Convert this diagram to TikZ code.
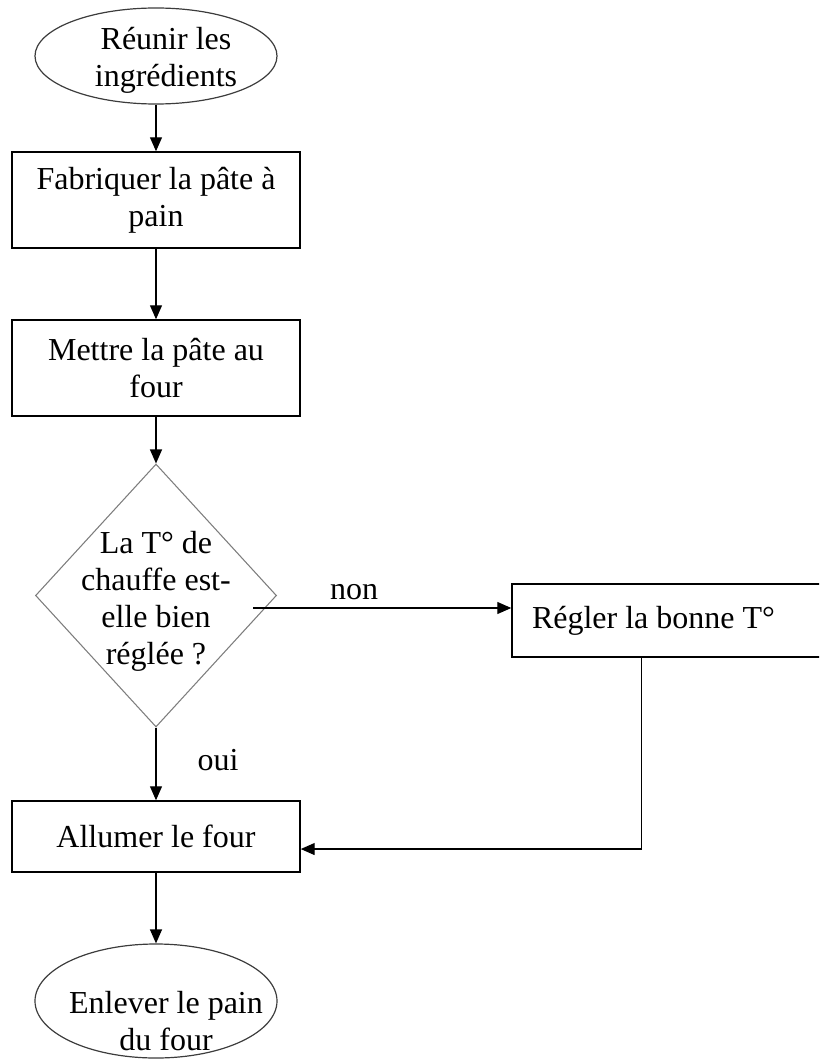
\documentclass[tikz,border=0pt]{standalone}
\usepackage{fontspec}
\setmainfont{Liberation Serif}
\usepackage{tikz}
\usetikzlibrary{shapes.geometric}
\usetikzlibrary{arrows.meta}

\begin{document}
\begin{tikzpicture}[x=0.75pt,y=0.75pt,yscale=-1,xscale=1,
  every node/.style={font=\fontsize{24}{27.75}\selectfont},
  txt/.style={inner sep=0pt, align=center},
  procbox/.style={draw=black, line width=1.1pt, rectangle, minimum width=216pt, inner sep=0pt, align=center},
  oval/.style={draw={rgb, 255:red, 60; green, 60; blue, 60}, line width=0.9pt, ellipse, inner sep=0pt, minimum width=181.5pt, minimum height=72pt},
  decision/.style={draw={rgb, 255:red, 125; green, 125; blue, 125}, line width=0.8pt, diamond, inner sep=0pt, minimum width=180.75pt, minimum height=197.25pt},
  fleche/.style={draw=black, line width=0.9pt, -{Triangle[length=10.5pt,width=9pt]}}]
\path [use as bounding box, clip] (0,0) rectangle (819,1059);

\node [oval] (ingr) at (156,56) {};
\node [txt] (ingrtxt) at (166,60) {Réunir les\\ingrédients};
\node [procbox, minimum height=72pt] (pate) at (156,200) {Fabriquer la pâte à\\pain};
\node [procbox, minimum height=72pt] (four) at (156,368) {Mettre la pâte au\\four};
\node [decision] (test) at (156,595.5) {};
\node [txt] (testtxt) at (156,601) {La T° de\\chauffe est-\\elle bien\\réglée ?};
\node [procbox, minimum width=240pt, minimum height=54.75pt, text width=210pt, align=flush left] (regler) at (672,620.5) {Régler la bonne T°};
\node [procbox, minimum height=53.25pt] (allumer) at (156,836.5) {Allumer le four};
\node [oval, minimum height=85.5pt] (enlever) at (156,1001) {};
\node [txt] (enlevertxt) at (166,1021) {Enlever le pain\\du four};
\node [txt] (non) at (354,592) {non};
\node [txt] (oui) at (218,760) {oui};

\coordinate (nondep) at (253,608);
\coordinate (retour) at ([xshift=97.5pt]regler.south west);

\draw [fleche] (ingr) -- (pate);
\draw [fleche] (pate) -- (four);
\draw [fleche] (four) -- (test);
\draw [fleche] (test) -- (allumer);
\draw [fleche] (allumer) -- (enlever);
\draw [fleche] (nondep) -- (nondep -| regler.west);
\draw [fleche] (retour) |- ([yshift=9.4pt]allumer.east);
\end{tikzpicture}
\end{document}
